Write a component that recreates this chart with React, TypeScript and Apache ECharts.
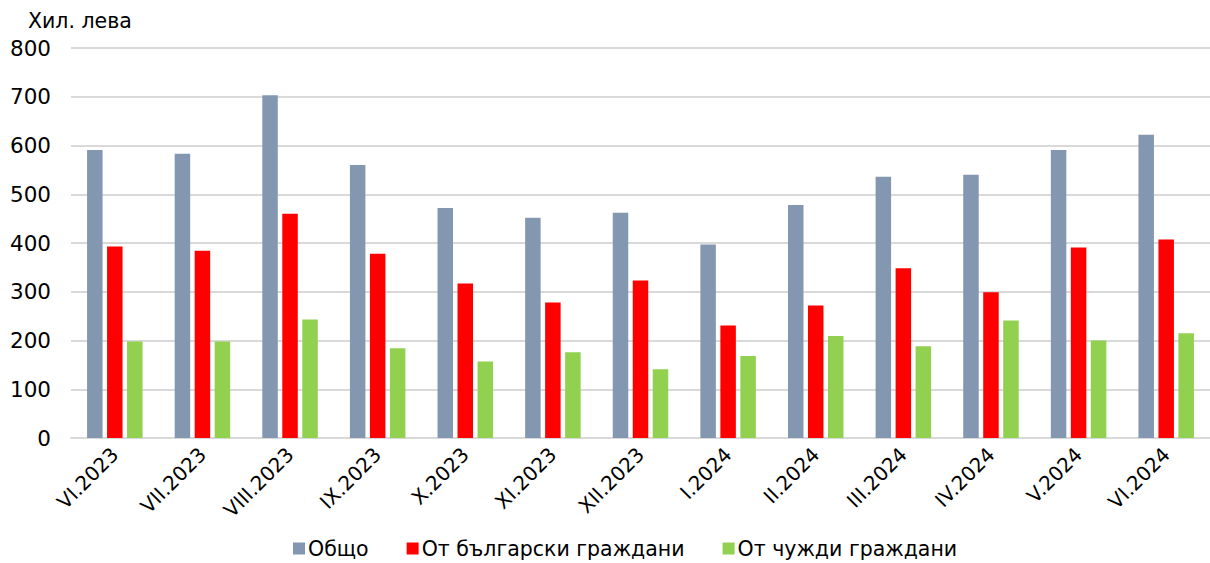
import React, { useEffect, useRef } from "react";
import * as echarts from "echarts";

const categories = [
  "VI.2023", "VII.2023", "VIII.2023", "IX.2023", "X.2023", "XI.2023", "XII.2023",
  "I.2024", "II.2024", "III.2024", "IV.2024", "V.2024", "VI.2024",
];
const total = [591, 583, 703, 560, 472, 452, 462, 397, 478, 536, 540, 591, 622];
const bulgarian = [393, 384, 460, 378, 317, 278, 323, 231, 272, 348, 299, 391, 407];
const foreign = [198, 198, 243, 184, 157, 176, 141, 168, 209, 188, 241, 200, 215];
const seriesNames = ["Общо", "От български граждани", "От чужди граждани"];
const colors = ["#8497B0", "#FF0000", "#92D050"];
const unitLabel = "Хил. лева";

const FONT = "Verdana, 'DejaVu Sans', sans-serif";

export default function App() {
  const ref = useRef<HTMLDivElement>(null);
  useEffect(() => {
    document.body.style.margin = "0";
    const chart = echarts.init(ref.current!, null, { renderer: "svg" });
    const data = [total, bulgarian, foreign];
    chart.setOption({
      animation: false,
      backgroundColor: "#ffffff",
      textStyle: { fontFamily: FONT },
      graphic: [
        {
          type: "text",
          left: 28,
          top: 10,
          style: { text: unitLabel, fontSize: 20.5, fontFamily: FONT, fill: "#000" },
        },
      ],
      grid: { left: 71, right: -8, top: 48, bottom: 125, containLabel: false },
      legend: {
        top: 533,
        left: 288,
        itemWidth: 12,
        itemHeight: 12,
        itemGap: 38,
        icon: "rect",
        textStyle: { fontSize: 20.5, fontFamily: FONT, color: "#000", padding: [0, 0, 0, -2] },
        data: seriesNames,
      },
      xAxis: {
        type: "category",
        data: categories,
        axisLine: { show: true, lineStyle: { color: "#d9d9d9", width: 2 } },
        axisTick: { show: false },
        axisLabel: {
          rotate: 45,
          fontSize: 20,
          fontFamily: FONT,
          color: "#000",
          margin: 13,
          interval: 0,
        },
      },
      yAxis: {
        type: "value",
        min: 0,
        max: 800,
        interval: 100,
        axisLine: { show: false },
        axisTick: { show: false },
        splitLine: { lineStyle: { color: "#d9d9d9", width: 2 } },
        axisLabel: { fontSize: 21.5, fontFamily: FONT, color: "#000", margin: 20 },
      },
      series: seriesNames.map((name, i) => ({
        name,
        type: "bar",
        data: data[i],
        barWidth: 15.5,
        barGap: "29%",
        itemStyle: { color: colors[i] },
      })),
    });
    return () => chart.dispose();
  }, []);
  return <div ref={ref} style={{ width: 1210, height: 563 }} />;
}
